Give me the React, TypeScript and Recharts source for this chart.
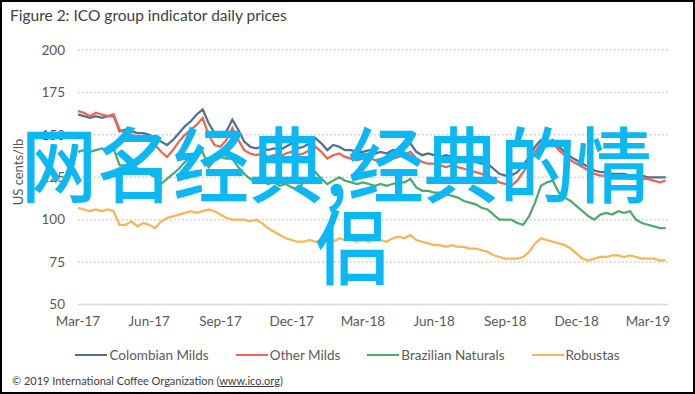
import React from 'react'
import { LineChart, Line, XAxis, YAxis, CartesianGrid, Legend } from 'recharts'

// quarter-month steps from 1 Mar 2017
const STEPS = 100
const months = Array.from({ length: STEPS }, (_, i) => i * 0.25)

const tickLabels = ['Mar-17', 'Jun-17', 'Sep-17', 'Dec-17', 'Mar-18', 'Jun-18', 'Sep-18', 'Dec-18', 'Mar-19']
const yTicks = [50, 75, 100, 125, 150, 175, 200]

const colombianMilds = [
  162, 161, 160, 161, 160, 161, 161, 152, 153, 152,
  151, 151, 150, 148, 146, 144, 147, 151, 155, 158,
  162, 165, 157, 151, 150, 152, 159, 153, 146, 143,
  142, 143, 141, 142, 141, 143, 145, 142, 143, 145,
  148, 145, 141, 144, 143, 141, 141, 140, 140, 141,
  139, 140, 139, 141, 141, 143, 145, 140, 138, 139,
  138, 137, 138, 137, 136, 137, 135, 134, 133, 133,
  130, 127, 126, 126, 128, 132, 137, 143, 147, 145,
  147, 143, 140, 137, 135, 133, 131, 129, 128, 128,
  127, 127, 127, 126, 126, 126, 125, 125, 125, 125,
]

const otherMilds = [
  164, 163, 161, 163, 162, 161, 162, 153, 151, 150,
  149, 148, 147, 144, 140, 137, 141, 146, 150, 153,
  156, 160, 150, 144, 143, 147, 154, 147, 141, 139,
  138, 139, 137, 138, 137, 139, 140, 138, 139, 141,
  143, 140, 136, 138, 139, 137, 136, 135, 136, 137,
  135, 136, 134, 136, 137, 138, 140, 136, 134, 133,
  133, 132, 131, 132, 131, 130, 129, 128, 127, 126,
  124, 122, 121, 120, 123, 128, 133, 140, 145, 143,
  145, 141, 138, 135, 133, 131, 129, 127, 126, 126,
  125, 125, 125, 124, 124, 124, 124, 123, 122, 123,
]

const brazilianNaturals = [
  140, 141, 140, 141, 142, 141, 142, 132, 132, 134,
  130, 130, 127, 125, 121, 124, 127, 130, 134, 137,
  139, 140, 131, 135, 137, 136, 136, 131, 127, 124,
  122, 123, 121, 122, 120, 121, 119, 118, 122, 125,
  128, 124, 121, 123, 125, 123, 122, 121, 122, 121,
  120, 121, 120, 121, 122, 122, 124, 119, 117, 117,
  116, 116, 115, 114, 113, 111, 110, 109, 107, 106,
  103, 100, 100, 100, 98, 97, 102, 110, 120, 122,
  123, 116, 113, 111, 108, 105, 102, 100, 103, 104,
  103, 105, 104, 105, 100, 98, 97, 96, 95, 95,
]

const robustas = [
  107, 106, 105, 106, 105, 106, 105, 97, 97, 99,
  96, 98, 97, 95, 99, 101, 102, 103, 104, 105,
  104, 105, 106, 105, 103, 101, 100, 100, 100, 99,
  100, 98, 95, 93, 91, 89, 88, 87, 87, 88,
  87, 88, 88, 87, 89, 88, 88, 87, 88, 87,
  88, 88, 87, 89, 90, 89, 91, 88, 87, 86,
  85, 85, 84, 85, 84, 84, 83, 83, 82, 81,
  79, 78, 77, 77, 77, 78, 81, 86, 89, 88,
  87, 86, 85, 83, 80, 77, 76, 77, 78, 78,
  79, 79, 78, 79, 78, 77, 77, 77, 76, 76,
]

const series = [
  { key: 'colombian', name: 'Colombian Milds', color: '#50708f', values: colombianMilds },
  { key: 'other', name: 'Other Milds', color: '#f2624f', values: otherMilds },
  { key: 'brazilian', name: 'Brazilian Naturals', color: '#4eaa6b', values: brazilianNaturals },
  { key: 'robustas', name: 'Robustas', color: '#fbb451', values: robustas },
]

const data = months.map((m, i) => {
  const row: Record<string, number> = { m }
  series.forEach((s) => {
    row[s.key] = s.values[i]
  })
  return row
})

const FONT = 'Lato, "Liberation Sans", sans-serif'

function LegendRow() {
  return (
    <div style={{ display: 'flex', justifyContent: 'center', alignItems: 'center', fontFamily: FONT, fontSize: 13.5, color: '#595959' }}>
      {series.map((s) => (
        <div key={s.key} style={{ display: 'flex', alignItems: 'center', margin: '0 13.5px' }}>
          <span style={{ display: 'inline-block', width: 32, height: 2.5, background: s.color, marginRight: 2 }} />
          <span>{s.name}</span>
        </div>
      ))}
    </div>
  )
}

const overlayStyle: React.CSSProperties = {
  position: 'absolute',
  fontFamily: '"Noto Sans CJK SC", sans-serif',
  fontSize: 76,
  fontWeight: 500,
  lineHeight: '80px',
  color: '#0cb8f3',
  whiteSpace: 'nowrap',
  transform: 'scaleY(1.08)',
  transformOrigin: 'left top',
}

export default function App() {
  return (
    <div
      style={{
        position: 'fixed',
        left: 0,
        top: 0,
        width: 695,
        height: 394,
        background: '#fff',
        boxSizing: 'border-box',
        border: '2px solid #000',
        overflow: 'hidden',
      }}
    >
      <div style={{ position: 'absolute', left: 0, top: 0 }}>
        <LineChart width={695} height={394} data={data} margin={{ top: 48, right: 29, bottom: 61.5, left: -2 }}>
          <CartesianGrid vertical={false} stroke="#c9c9c9" strokeDasharray="1.5 2.5" strokeWidth={1.5} />
          <XAxis
            dataKey="m"
            type="number"
            domain={[0, 24.85]}
            ticks={[0, 3, 6, 9, 12, 15, 18, 21, 24]}
            tickFormatter={(v: number) => tickLabels[Math.round(v / 3)]}
            height={30}
            axisLine={{ stroke: '#d9d9d9', strokeWidth: 1.5 }}
            tickLine={false}
            tickSize={0}
            tickMargin={12}
            tick={{ fill: '#595959', fontSize: 13.5, fontFamily: FONT }}
          />
          <YAxis
            type="number"
            domain={[50, 200]}
            ticks={yTicks}
            width={78}
            axisLine={false}
            tickLine={false}
            tickSize={0}
            tickMargin={13}
            tick={{ fill: '#595959', fontSize: 13.5, fontFamily: FONT }}
            label={{
              content: () => (
                <text
                  x={16}
                  y={170}
                  transform="rotate(-90 16 170)"
                  textAnchor="middle"
                  dominantBaseline="central"
                  fill="#595959"
                  fontSize={13}
                  fontFamily={FONT}
                >
                  US cents/lb
                </text>
              ),
            }}
          />
          <Legend
            layout="horizontal"
            verticalAlign="middle"
            align="center"
            wrapperStyle={{ top: 345, left: 0, width: 691 }}
            content={() => <LegendRow />}
          />
          {series.map((s) => (
            <Line
              key={s.key}
              type="linear"
              dataKey={s.key}
              name={s.name}
              stroke={s.color}
              strokeWidth={2.25}
              dot={false}
              isAnimationActive={false}
            />
          ))}
        </LineChart>
      </div>
      <div
        style={{ position: 'absolute', left: 8, top: 4, fontFamily: FONT, fontSize: 15.5, color: '#404040', whiteSpace: 'nowrap' }}
      >
        Figure 2: ICO group indicator daily prices
      </div>
      <div
        style={{ position: 'absolute', left: 10, top: 372, fontFamily: FONT, fontSize: 11, color: '#404040', whiteSpace: 'nowrap' }}
      >
        © 2019 International Coffee Organization (<span style={{ textDecoration: 'underline' }}>www.ico.org</span>)
      </div>
      <div style={{ ...overlayStyle, left: 19, top: 115 }}>网名经典,经典的情</div>
      <div style={{ ...overlayStyle, left: 313, top: 197 }}>侣</div>
    </div>
  )
}
